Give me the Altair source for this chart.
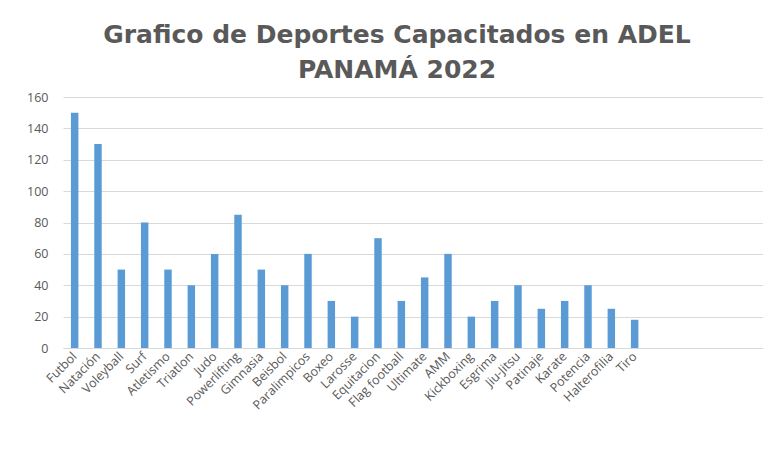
import altair as alt
import pandas as pd

categories = ["Futbol", "Natación", "Voleyball", "Surf", "Atletismo", "Triatlon", "Judo",
              "Powerlifting", "Gimnasia", "Beisbol", "Paralimpicos", "Boxeo", "Larosse",
              "Equitacion", "Flag football", "Ultimate", "AMM", "Kickboxing", "Esgrima",
              "Jiu-Jitsu", "Patinaje", "Karate", "Potencia", "Halterofilia", "Tiro"]
values = [150, 130, 50, 80, 50, 40, 60, 85, 50, 40, 60, 30, 20, 70, 30, 45, 60, 20, 30,
          40, 25, 30, 40, 25, 18]
# empty category slots present in the original chart after "Tiro"
blank_slots = [" ", "  ", "   ", "    ", "     "]
y_ticks = [0, 20, 40, 60, 80, 100, 120, 140, 160]

df = pd.DataFrame({"Deporte": categories, "Cantidad": values})

label_font = "Open Sans"
gray = "#595959"

chart = alt.Chart(df).mark_bar(color="#5B9BD5").encode(
    x=alt.X("Deporte:N",
            sort=None,
            scale=alt.Scale(domain=categories + blank_slots, paddingInner=0.68, paddingOuter=0.34),
            axis=alt.Axis(title=None, labelAngle=-45, labelAlign="right", labelBaseline="middle",
                          labelFont=label_font, labelFontSize=12.5, labelColor=gray,
                          ticks=False, labelPadding=6, domainColor="#D9D9D9", grid=False)),
    y=alt.Y("Cantidad:Q",
            scale=alt.Scale(domain=[0, 160], nice=False),
            axis=alt.Axis(title=None, values=y_ticks, labelFont=label_font, labelFontSize=12.5,
                          labelColor=gray, ticks=False, domain=False, labelPadding=15,
                          gridColor="#D9D9D9", gridWidth=1)),
).properties(
    width=700,
    height=251,
    title=alt.TitleParams(
        text=["Grafico de Deportes Capacitados en ADEL", "PANAMÁ 2022"],
        font="DejaVu Sans", fontSize=25, fontWeight="bold", color="#595959",
        anchor="middle", dx=-16, offset=8, lineHeight=35,
    ),
    autosize=alt.AutoSizeParams(type="none"),
    padding={"left": 55, "top": 89, "right": 0, "bottom": 100},
).configure_view(stroke=None)

chart.save("out.html", embed_options={"renderer": "svg", "actions": False})
